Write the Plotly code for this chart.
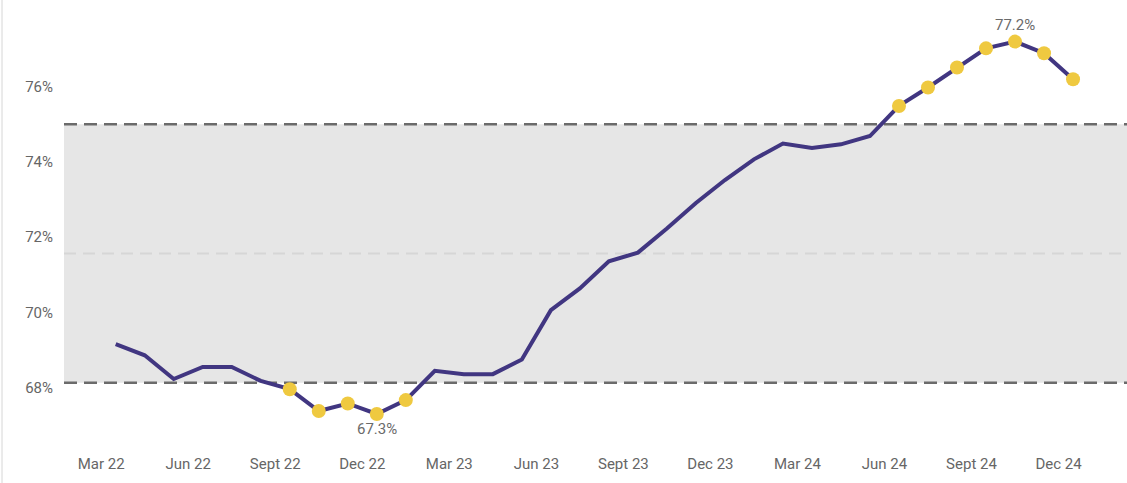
import plotly.graph_objects as go

months = ["Mar 22","Apr 22","May 22","Jun 22","Jul 22","Aug 22","Sept 22","Oct 22","Nov 22","Dec 22",
          "Jan 23","Feb 23","Mar 23","Apr 23","May 23","Jun 23","Jul 23","Aug 23","Sept 23","Oct 23",
          "Nov 23","Dec 23","Jan 24","Feb 24","Mar 24","Apr 24","May 24","Jun 24","Jul 24","Aug 24",
          "Sept 24","Oct 24","Nov 24","Dec 24"]
values = [69.16, 68.86, 68.23, 68.55, 68.55, 68.18, 67.96, 67.38, 67.58, 67.30,
          67.67, 68.45, 68.36, 68.36, 68.75, 70.06, 70.64, 71.36, 71.59, 72.23,
          72.91, 73.52, 74.07, 74.49, 74.37, 74.47, 74.69, 75.49, 75.98, 76.51,
          77.02, 77.20, 76.89, 76.20]
tick_labels = ["Mar 22","Jun 22","Sept 22","Dec 22","Mar 23","Jun 23","Sept 23","Dec 23",
               "Mar 24","Jun 24","Sept 24","Dec 24"]
y_ticks = [68, 70, 72, 74, 76]
upper_limit = 75.0
lower_limit = 68.13
mean_line = 71.57

x = list(range(len(months)))
tick_pos = [months.index(t) - 0.5 for t in tick_labels]

xr = [-1.782, 34.86]
yr = [66.476, 78.306]

fig = go.Figure()

# band
fig.add_shape(type="rect", xref="paper", x0=0, x1=1, yref="y", y0=lower_limit, y1=upper_limit,
              fillcolor="#e6e6e6", line_width=0, layer="below")
fig.add_shape(type="line", xref="paper", x0=0, x1=1, yref="y", y0=mean_line, y1=mean_line,
              line=dict(color="#d6d6d6", width=2, dash="12px,7px"), layer="below")
for lv in (upper_limit, lower_limit):
    fig.add_shape(type="line", xref="paper", x0=0, x1=1, yref="y", y0=lv, y1=lv,
                  line=dict(color="#6b6b6b", width=2.5, dash="13px,7px"), layer="below")

fig.add_trace(go.Scatter(x=x, y=values, mode="lines",
                         line=dict(color="#413681", width=4), hoverinfo="skip", showlegend=False))

mx = [xi for xi, v in zip(x, values) if v < lower_limit or v > upper_limit]
my = [v for v in values if v < lower_limit or v > upper_limit]
fig.add_trace(go.Scatter(x=mx, y=my, mode="markers",
                         marker=dict(color="#efc940", size=14, line_width=0), showlegend=False))

imax = values.index(max(values))
imin = values.index(min(values))
fig.add_annotation(x=x[imax], y=values[imax], text=f"{values[imax]:.1f}%", showarrow=False,
                   yshift=17, font=dict(size=15, color="#6a6a6a", family="Roboto"))
fig.add_annotation(x=x[imin], y=values[imin], text=f"{values[imin]:.1f}%", showarrow=False,
                   yshift=-15, font=dict(size=15, color="#6a6a6a", family="Roboto"))

# left border
fig.add_shape(type="line", xref="paper", yref="paper", x0=-0.0583, x1=-0.0583, y0=-0.09, y1=1,
              line=dict(color="#e4e4e4", width=1.5))

fig.update_layout(
    width=1127, height=483,
    margin=dict(l=64, r=0, t=0, b=38),
    plot_bgcolor="white", paper_bgcolor="white",
    font=dict(family="Roboto", size=15, color="#666666"),
)
fig.update_xaxes(range=xr, tickvals=tick_pos, ticktext=tick_labels, showgrid=False,
                 zeroline=False, showline=False, ticks="", ticklabelstandoff=8)
fig.update_yaxes(range=yr, tickvals=y_ticks, ticktext=[f"{v}%" for v in y_ticks], showgrid=False,
                 zeroline=False, showline=False, ticks="", ticklabelstandoff=10)

fig.write_html("out.html", config={"displayModeBar": False},
               post_script="document.body.style.margin='0';document.body.style.padding='0';")
